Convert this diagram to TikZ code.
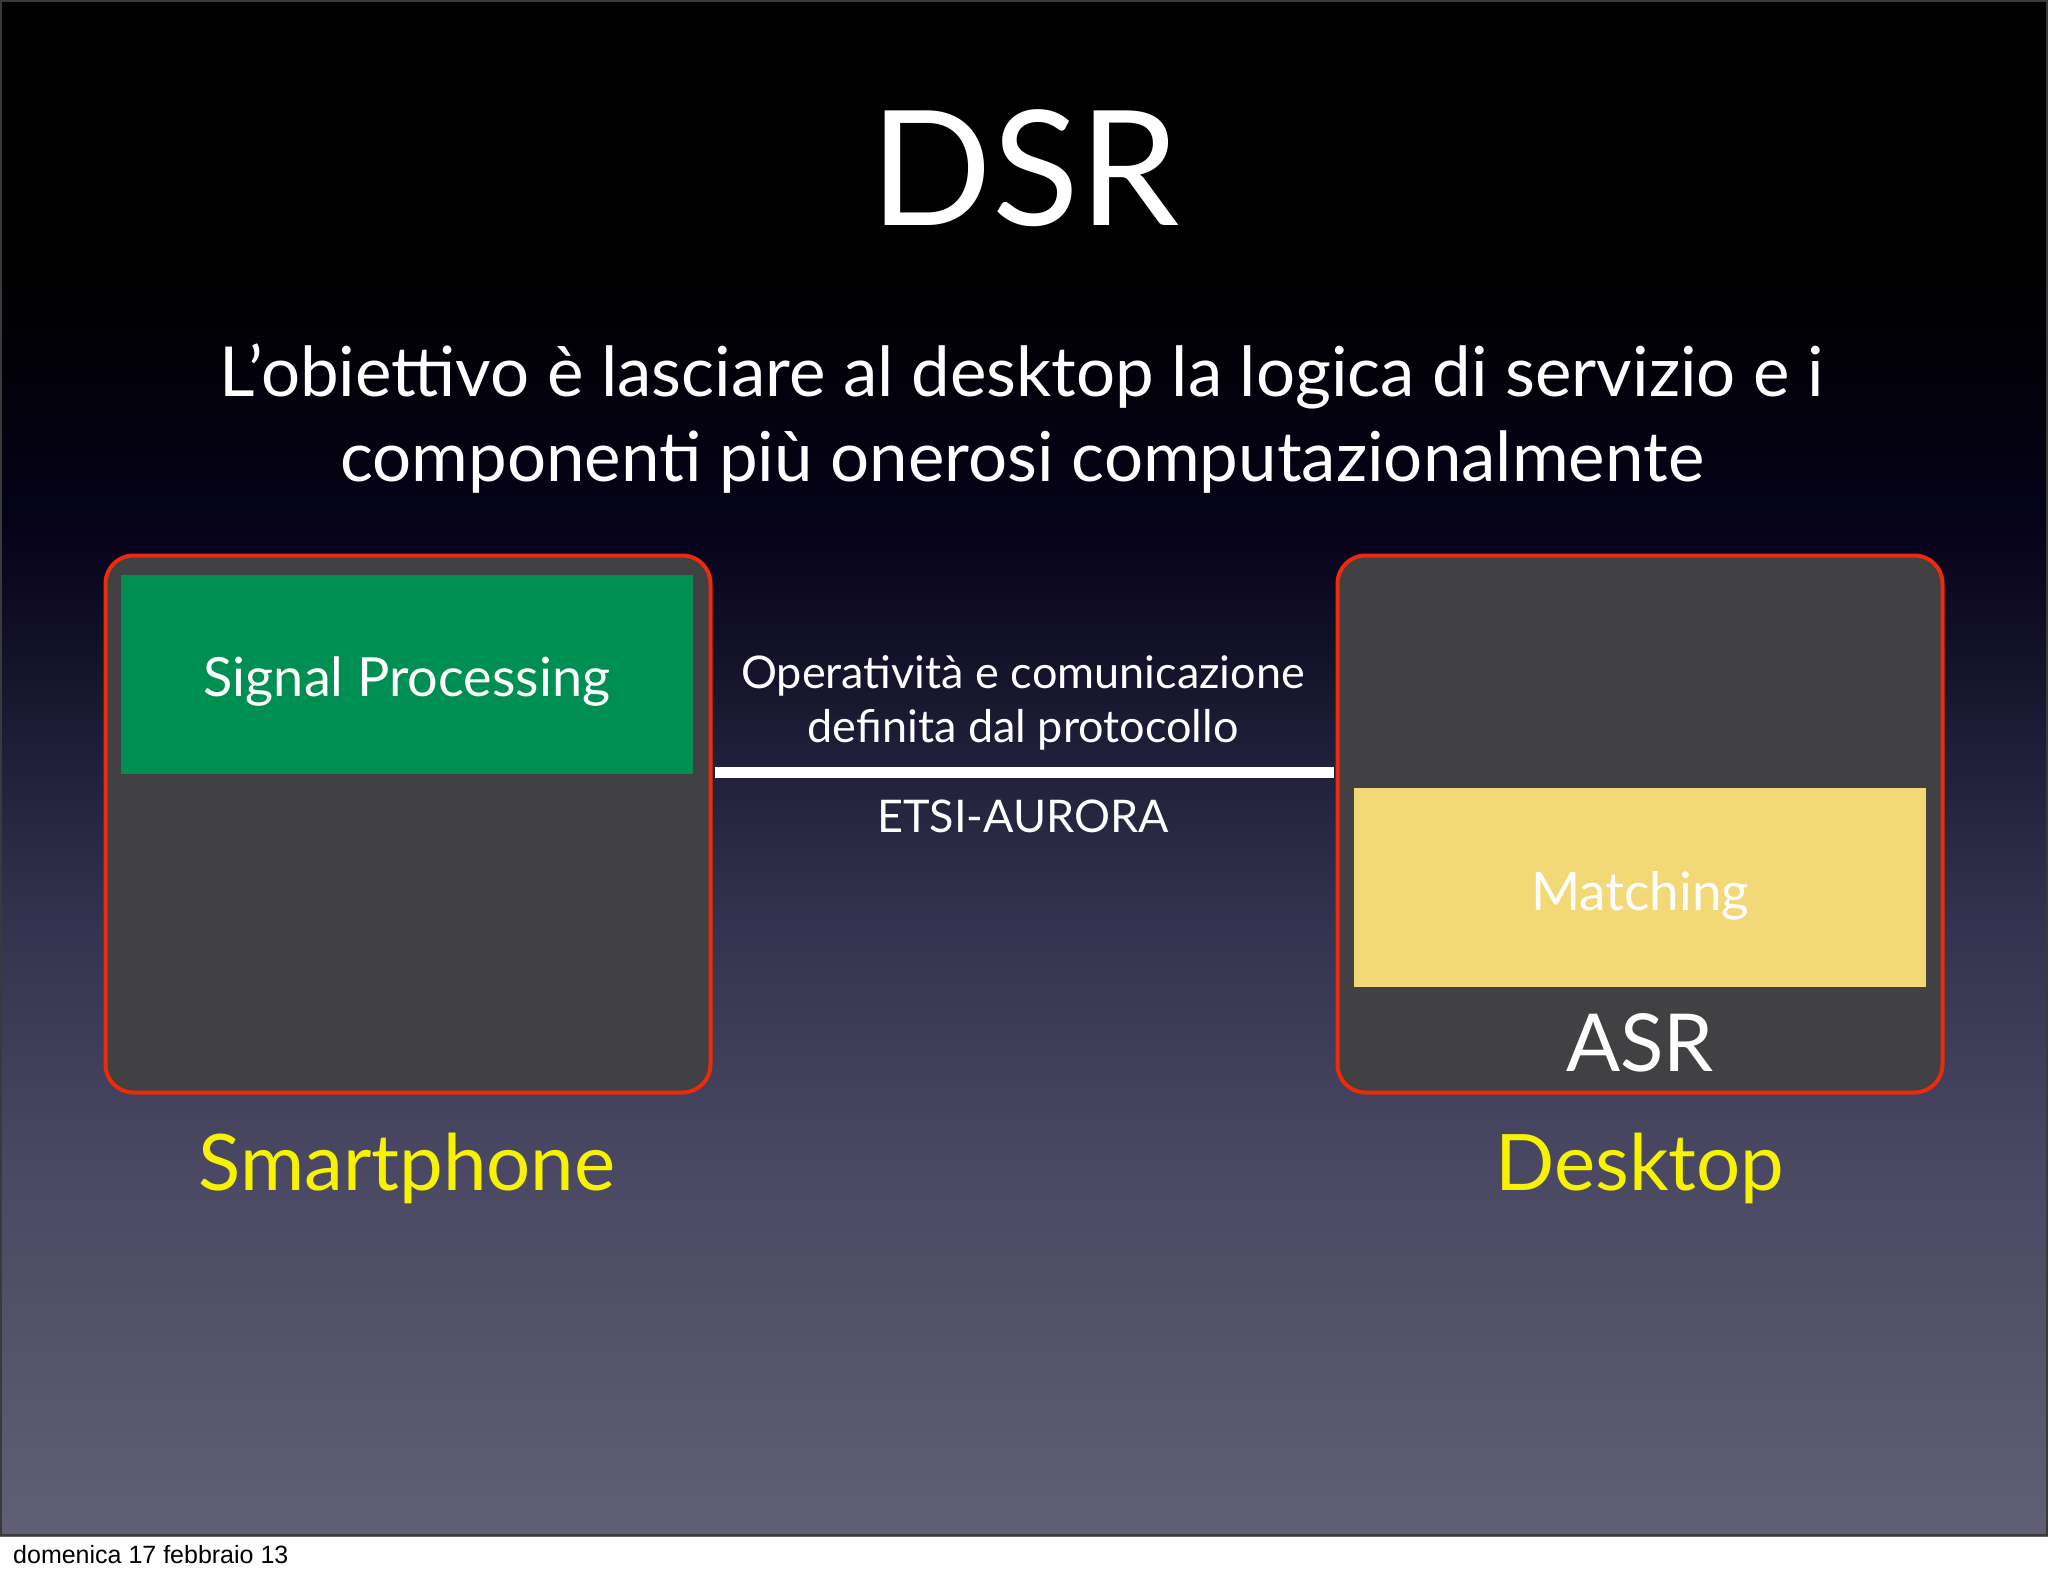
\documentclass[tikz,border=0pt]{standalone}
\usepackage{fontspec}
\setmainfont{Lato}
\setsansfont{Liberation Sans}

\definecolor{boxred}{RGB}{236,42,12}
\definecolor{boxgrey}{RGB}{65,64,66}
\definecolor{spgreen}{RGB}{0,143,83}
\definecolor{matchyellow}{RGB}{242,216,118}
\definecolor{labelyellow}{RGB}{246,242,0}
\definecolor{framegrey}{RGB}{58,58,58}
\definecolor{bgA}{RGB}{97,95,117}
\definecolor{bgB}{RGB}{74,72,98}
\definecolor{bgC}{RGB}{51,51,79}
\definecolor{bgD}{RGB}{6,3,26}

\begin{document}
\begin{tikzpicture}[x=1pt, y=-1pt,
  box/.style={draw=boxred, line width=4pt, fill=boxgrey, rounded corners=28pt, minimum width=605pt, minimum height=537pt, inner sep=0pt},
  block/.style={inner sep=0pt, minimum height=199pt, minimum width=572pt},
  txt/.style={text=white, inner sep=0pt, anchor=base},
  device/.style={text=labelyellow, inner sep=0pt, anchor=base, font=\fontsize{78}{78}\selectfont}]
\useasboundingbox (0,0) rectangle (2048,1576);
\fill[white] (0,0) rectangle (2048,1576);
% sfondo sfumato
\fill[black] (0,0) rectangle (2048,271);
\shade[top color=black, bottom color=bgD] (0,270) rectangle (2048,536);
\shade[top color=bgD, bottom color=bgC] (0,535) rectangle (2048,921);
\shade[top color=bgC, bottom color=bgB] (0,920) rectangle (2048,1171);
\shade[top color=bgB, bottom color=bgA] (0,1170) rectangle (2048,1536);
\draw[framegrey, line width=2pt] (1,1) rectangle (2047,1535);

% titolo
\node[txt, font=\fontsize{160}{160}\selectfont] (title) at (1025,225) {DSR};
\node[txt, font=\fontsize{69}{69}\selectfont] (goal1) at (1022,396) {L’obiettivo è lasciare al desktop la logica di servizio e i};
\node[txt, font=\fontsize{69}{69}\selectfont] (goal2) at (1022,481) {componenti più onerosi computazionalmente};

% i due lati
\node[box] (phone) at (408,824) {};
\node[box] (desk) at (1640,824) {};
\node[block, fill=spgreen] (sp) at (407,674) {};
\node[block, fill=matchyellow] (match) at (1640,887) {};
\node[txt, font=\fontsize{54}{54}\selectfont] (sptext) at (407,696) {Signal Processing};
\node[txt, font=\fontsize{53}{53}\selectfont] (matchtext) at (1640,910) {Matching};
\node[txt, font=\fontsize{80}{80}\selectfont] (asr) at (1640,1071) {ASR};

% protocollo
\draw[white, line width=11pt, shorten <=2pt, shorten >=2pt] ([yshift=52pt]phone.east) -- ([yshift=52pt]desk.west);
\node[txt, font=\fontsize{45}{45}\selectfont] (proto1) at (1023,688) {Operatività e comunicazione};
\node[txt, font=\fontsize{45}{45}\selectfont] (proto2) at (1023,742) {definita dal protocollo};
\node[txt, font=\fontsize{45}{45}\selectfont] (etsi) at (1023,832) {ETSI-AURORA};

\node[device] (smart) at (407,1190) {Smartphone};
\node[device] (desktop) at (1640,1190) {Desktop};

\node[inner sep=0pt, anchor=base west, font=\sffamily\fontsize{25}{25}\selectfont] (date) at (13,1563) {domenica 17 febbraio 13};
\end{tikzpicture}
\end{document}
